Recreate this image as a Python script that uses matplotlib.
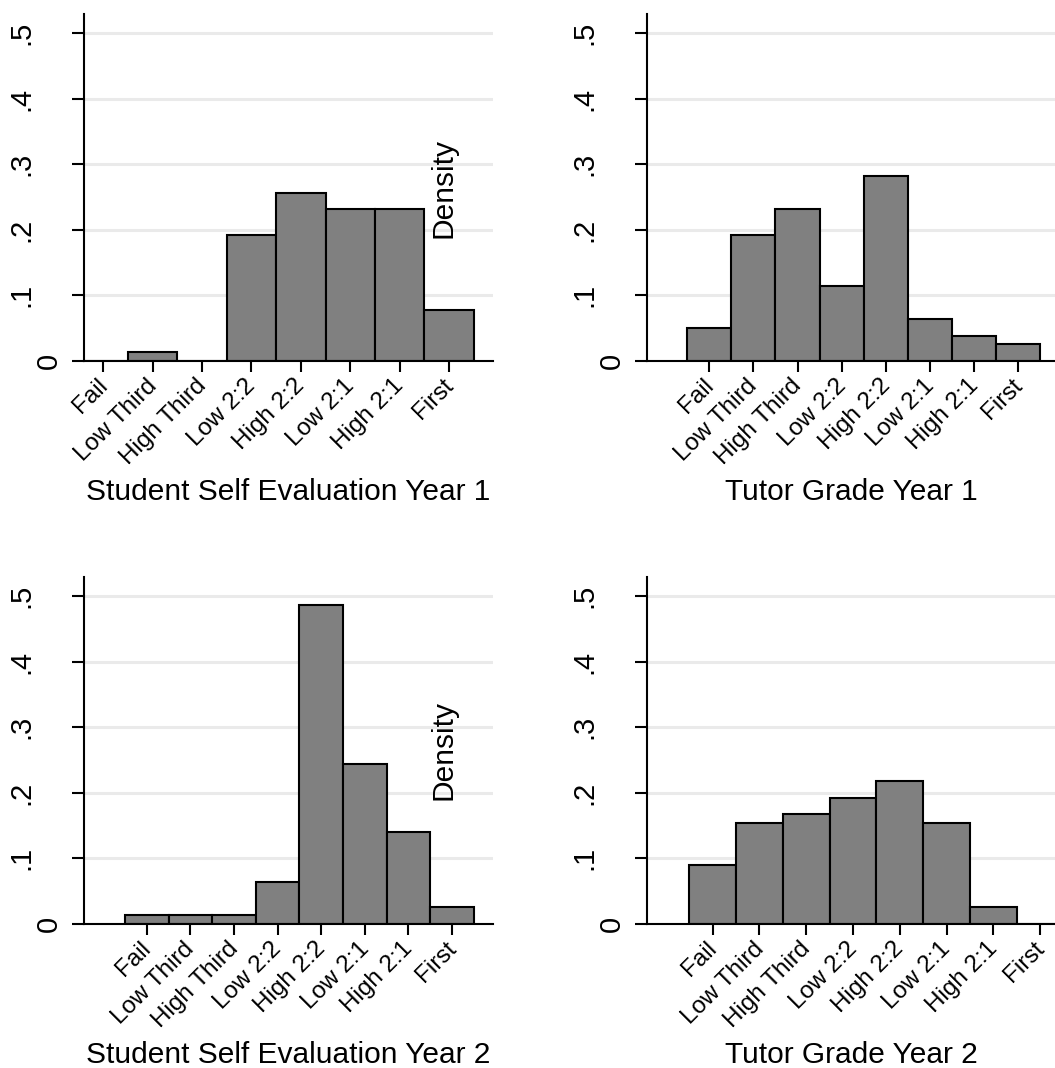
import numpy as np
import matplotlib
matplotlib.use("Agg")
import matplotlib.pyplot as plt
import matplotlib.transforms as mtransforms

plt.rcParams['font.family'] = ['Liberation Sans', 'DejaVu Sans']

# grade categories, shared by all four panels
grades = ["Fail", "Low Third", "High Third", "Low 2:2",
          "High 2:2", "Low 2:1", "High 2:1", "First"]

# densities
self_eval_y1 = [0.0, 0.013, 0.0, 0.192, 0.256, 0.231, 0.231, 0.077]
tutor_y1 = [0.051, 0.192, 0.231, 0.115, 0.282, 0.064, 0.038, 0.026]
self_eval_y2 = [0.013, 0.013, 0.013, 0.064, 0.487, 0.244, 0.141, 0.026]
tutor_y2 = [0.090, 0.154, 0.167, 0.192, 0.218, 0.154, 0.026, 0.0]

titles = ["Student Self Evaluation Year 1", "Tutor Grade Year 1",
          "Student Self Evaluation Year 2", "Tutor Grade Year 2"]

yticks = [0, 0.1, 0.2, 0.3, 0.4, 0.5]
ytick_labels = ["0", ".1", ".2", ".3", ".4", ".5"]

W, H = 1055, 1068
fig = plt.figure(figsize=(W / 100, H / 100), dpi=100)

# panel boxes in pixels: left, top, right, bottom ; plus x range
panels = [
    (84, 14, 493, 361, (0.61, 8.89), self_eval_y1, True),
    (647, 14, 1055, 361, (-0.41, 8.83), tutor_y1, False),
    (84, 577, 493, 924, (-0.44, 8.94), self_eval_y2, True),
    (647, 577, 1055, 924, (-0.405, 8.32), tutor_y2, False),
]

x = np.arange(1, len(grades) + 1)

def px(dx, dy=0):
    return mtransforms.ScaledTranslation(dx / 100, dy / 100, fig.dpi_scale_trans)

for (l, t, r, b, xl, vals, dens), title in zip(panels, titles):
    ax = fig.add_axes([l / W, 1 - b / H, (r - l) / W, (b - t) / H])
    ax.bar(x, vals, width=1.0, color='#808080', edgecolor='black',
           linewidth=1.5, zorder=2)
    ax.set_xlim(*xl)
    ax.set_ylim(0, 0.529)

    ax.spines['top'].set_visible(False)
    ax.spines['right'].set_visible(False)
    ax.spines['left'].set_linewidth(1.5)
    ax.spines['bottom'].set_linewidth(1.5)
    ax.spines['bottom'].set_zorder(3)

    ax.yaxis.grid(True, color='#eaeaea', linewidth=2.2)
    ax.set_axisbelow(True)

    ax.set_yticks(yticks)
    ax.set_yticklabels(ytick_labels, fontsize=21)
    ax.tick_params(axis='y', length=8.6, width=1.5, pad=26.5)
    for lab in ax.get_yticklabels():
        lab.set_rotation(90)
        lab.set_va('center')
    zero_lab = ax.get_yticklabels()[0]
    zero_lab.set_transform(zero_lab.get_transform() + px(28))

    ax.set_xticks(x)
    ax.set_xticklabels(grades, fontsize=17.5)
    ax.tick_params(axis='x', length=7.9, width=1.5, pad=10.5)
    for lab in ax.get_xticklabels():
        lab.set_rotation(45)
        lab.set_ha('right')
        lab.set_va('baseline')
        lab.set_rotation_mode('anchor')
        lab.set_transform(lab.get_transform() + px(5))

    ax.set_xlabel(title, fontsize=21.5, va='baseline')
    ax.xaxis.set_label_coords(0.5, -0.40)

    if dens:
        ax.text(0.88, 0.5, "Density", rotation=90, transform=ax.transAxes,
                ha='center', va='center', fontsize=21.5)

fig.savefig("out.png", dpi=100)
